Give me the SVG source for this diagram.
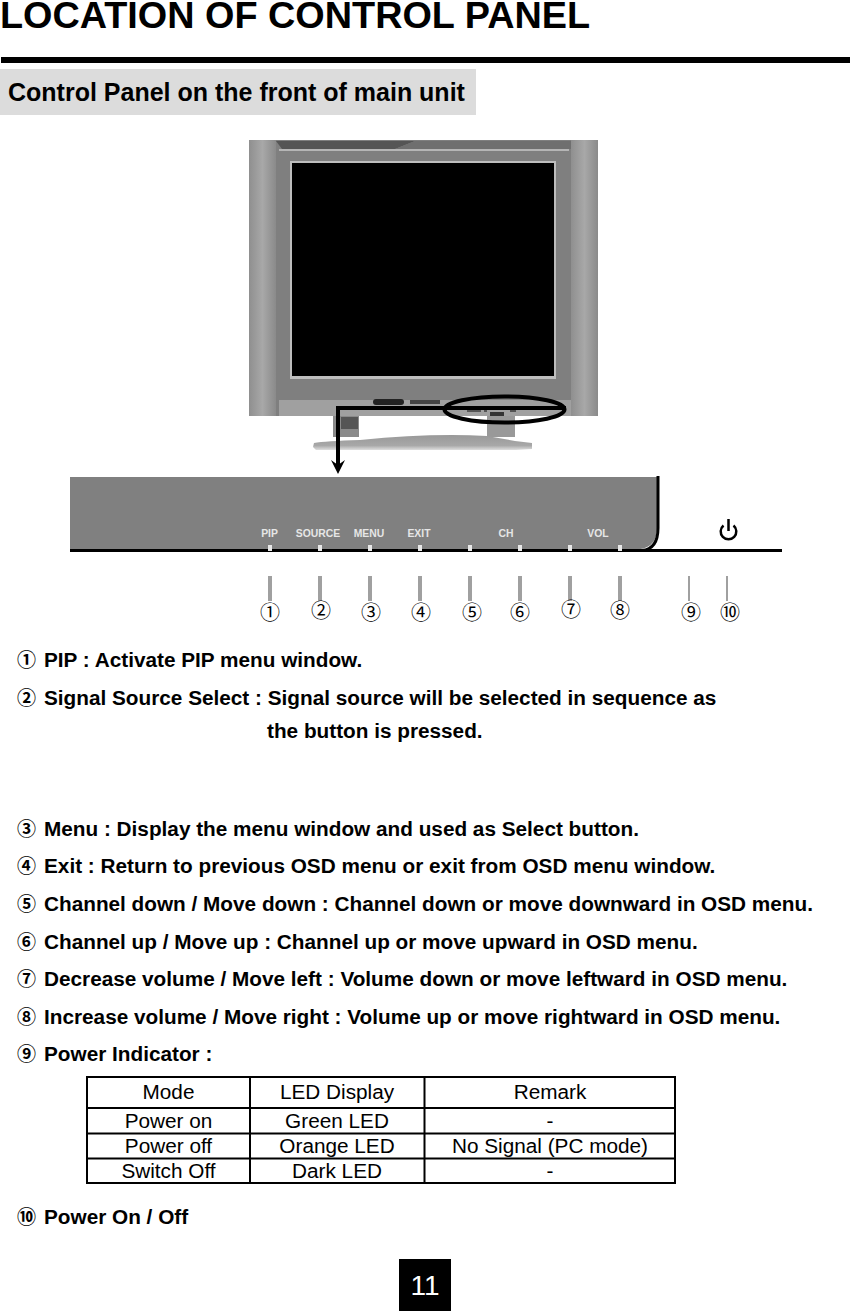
<svg xmlns="http://www.w3.org/2000/svg" width="850" height="1311" viewBox="0 0 850 1311">
<defs>
<linearGradient id="side" x1="0" x2="1" y1="0" y2="0"><stop offset="0" stop-color="#8f8f8f"/><stop offset=".5" stop-color="#a8a8a8"/><stop offset="1" stop-color="#8a8a8a"/></linearGradient>
<linearGradient id="base" x1="0" x2="0" y1="0" y2="1"><stop offset="0" stop-color="#999"/><stop offset=".7" stop-color="#a8a8a8"/><stop offset="1" stop-color="#dedede"/></linearGradient>
</defs>
<style>
text{font-family:"Liberation Sans",Arial,sans-serif;fill:#000}
.b{font-weight:700;font-size:20.75px}
.n{font-family:"Noto Sans CJK JP","DejaVu Sans",sans-serif;font-size:19px;font-weight:700}
.c{font-family:"Noto Sans CJK JP","DejaVu Sans",sans-serif;font-size:20px;text-anchor:middle}
.t{font-size:20.75px;text-anchor:middle}
.p{font-size:10.4px;font-weight:700;fill:#e6e6e6;text-anchor:middle}
.tick{fill:#a0a0a0}
.led{fill:#e8e8e8}
.g{fill:none;stroke:#000;stroke-width:2}
</style>
<rect width="850" height="1311" fill="#fff"/>
<g id="header">
<text x="0" y="28" style="font-size:37.8px;font-weight:700">LOCATION OF CONTROL PANEL</text>
<rect x="1" y="57" width="849" height="6" fill="#000"/>
<rect x="0" y="69" width="476" height="46" fill="#dcdcdc"/>
<text x="8" y="101" style="font-size:25px;font-weight:700">Control Panel on the front of main unit</text>
</g>
<g id="monitor">
<rect x="333" y="415" width="26" height="22" fill="#8a8a8a"/>
<rect x="341" y="417" width="17" height="12" fill="#555"/>
<rect x="487" y="415" width="28" height="22" fill="#999"/>
<path d="M314 443Q325 441 360 440Q430 433 487 436L515 441L532 443V449L516 450H316L313 447Z" fill="url(#base)"/>
<rect x="249" y="140" width="349" height="276" fill="#7f7f7f"/>
<rect x="249" y="140" width="27" height="276" fill="url(#side)"/>
<rect x="571" y="140" width="27" height="276" fill="url(#side)"/>
<path d="M276 141H415L395 149H282Z" fill="#555"/>
<path d="M415 141H571V149H395Z" fill="#6f6f6f"/>
<rect x="279" y="149" width="290" height="2" fill="#b5b5b5"/>
<rect x="290" y="161" width="266" height="218" fill="#bdbdbd"/>
<rect x="292" y="163" width="262" height="213" fill="#000"/>
<rect x="279" y="400" width="292" height="16" fill="#a0a0a0"/>
<rect x="373" y="399" width="31" height="6" rx="3" fill="#222"/>
<rect x="410" y="400" width="30" height="4" fill="#444"/>
<rect x="490" y="412" width="14" height="4" fill="#333"/>
<path d="M467 411h10M477 411h4M484 411h3M510 411h6" stroke="#555" stroke-width="2" fill="none"/>
</g>
<g id="connectors">
<path d="M566 408H338V470" fill="none" stroke="#000" stroke-width="4"/>
<path d="M331 460L338 465L345 460L338 474Z" fill="#000"/>
<ellipse cx="504.500" cy="409.500" rx="60" ry="13" fill="none" stroke="#000" stroke-width="4"/>
</g>
<g id="panel">
<path d="M70 477H657V528Q657 546 641 549H70Z" fill="#808080"/>
<path d="M70 550.500H642Q658 549 658 528V476" fill="none" stroke="#000" stroke-width="3"/>
<path d="M642 550.500H782" fill="none" stroke="#000" stroke-width="3"/>
<text class="p" x="269.500" y="537">PIP</text>
<text class="p" x="318" y="537">SOURCE</text>
<text class="p" x="369" y="537">MENU</text>
<text class="p" x="419" y="537">EXIT</text>
<text class="p" x="506" y="537">CH</text>
<text class="p" x="598" y="537">VOL</text>
<rect class="led" x="268" y="545" width="4" height="6"/>
<rect class="led" x="318" y="545" width="4" height="6"/>
<rect class="led" x="368" y="545" width="4" height="6"/>
<rect class="led" x="418" y="545" width="4" height="6"/>
<rect class="led" x="468" y="545" width="4" height="6"/>
<rect class="led" x="518" y="545" width="4" height="6"/>
<rect class="led" x="568" y="545" width="4" height="6"/>
<rect class="led" x="618" y="545" width="4" height="6"/>
<path d="M723.500 525.500A7.800 7.800 0 1 0 733.500 525.500M728.500 519V531" fill="none" stroke="#000" stroke-width="2.500"/>
</g>
<g id="ticks">
<rect class="tick" x="268" y="576" width="4" height="25"/>
<rect class="tick" x="318" y="576" width="4" height="25"/>
<rect class="tick" x="368" y="576" width="4" height="25"/>
<rect class="tick" x="418" y="576" width="4" height="25"/>
<rect class="tick" x="468" y="576" width="4" height="25"/>
<rect class="tick" x="518" y="576" width="4" height="25"/>
<rect class="tick" x="568" y="576" width="4" height="25"/>
<rect class="tick" x="618" y="576" width="4" height="25"/>
<rect class="tick" x="688" y="576" width="2" height="25"/>
<rect class="tick" x="726" y="576" width="2" height="25"/>
<text class="c" x="270" y="620">①</text>
<text class="c" x="321" y="618">②</text>
<text class="c" x="371" y="620">③</text>
<text class="c" x="421" y="620">④</text>
<text class="c" x="472" y="620">⑤</text>
<text class="c" x="520" y="620">⑥</text>
<text class="c" x="571" y="617">⑦</text>
<text class="c" x="620" y="618">⑧</text>
<text class="c" x="691" y="620">⑨</text>
<text class="c" x="730" y="620">⑩</text>
</g>
<g id="descriptions">
<text class="n" x="17" y="667">①</text><text class="b" x="44" y="667">PIP : Activate PIP menu window.</text>
<text class="n" x="17" y="705">②</text><text class="b" x="44" y="705">Signal Source Select : Signal source will be selected in sequence as</text>
<text class="b" x="267" y="738">the button is pressed.</text>
<text class="n" x="17" y="836">③</text><text class="b" x="44" y="836">Menu : Display the menu window and used as Select button.</text>
<text class="n" x="17" y="873">④</text><text class="b" x="44" y="873">Exit : Return to previous OSD menu or exit from OSD menu window.</text>
<text class="n" x="17" y="911">⑤</text><text class="b" x="44" y="911">Channel down / Move down : Channel down or move downward in OSD menu.</text>
<text class="n" x="17" y="949">⑥</text><text class="b" x="44" y="949">Channel up / Move up : Channel up or move upward in OSD menu.</text>
<text class="n" x="17" y="986">⑦</text><text class="b" x="44" y="986">Decrease volume / Move left : Volume down or move leftward in OSD menu.</text>
<text class="n" x="17" y="1024">⑧</text><text class="b" x="44" y="1024">Increase volume / Move right : Volume up or move rightward in OSD menu.</text>
<text class="n" x="17" y="1061">⑨</text><text class="b" x="44" y="1061">Power Indicator :</text>
<text class="n" x="17" y="1224">⑩</text><text class="b" x="44" y="1224">Power On / Off</text>
</g>
<g id="table">
<path class="g" d="M87 1077H675V1183H87ZM87 1108H675M87 1133.500H675M87 1158.500H675M250 1077V1183M424.500 1077V1183"/>
<text class="t" x="168.500" y="1099">Mode</text>
<text class="t" x="337" y="1099">LED Display</text>
<text class="t" x="550" y="1099">Remark</text>
<text class="t" x="168.500" y="1128">Power on</text>
<text class="t" x="337" y="1128">Green LED</text>
<text class="t" x="550" y="1128">-</text>
<text class="t" x="168.500" y="1153">Power off</text>
<text class="t" x="337" y="1153">Orange LED</text>
<text class="t" x="550" y="1153">No Signal (PC mode)</text>
<text class="t" x="168.500" y="1178">Switch Off</text>
<text class="t" x="337" y="1178">Dark LED</text>
<text class="t" x="550" y="1178">-</text>
</g>
<g id="page-number">
<rect x="399" y="1259" width="52" height="52" fill="#000"/>
<text x="425" y="1295" style="font-size:28px;text-anchor:middle;fill:#fff">11</text>
</g>
</svg>
